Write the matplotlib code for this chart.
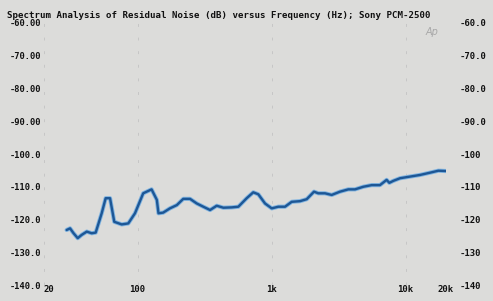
import numpy as np
import matplotlib
matplotlib.use("Agg")
import matplotlib.pyplot as plt
import matplotlib.ticker as ticker

# ---------------------------------------------------------------------------
# DATA
# ---------------------------------------------------------------------------
freq_hz = [29.5, 31.3, 33.1, 35.7, 38.2, 41.7, 45.4, 48.6, 53.9, 57.7,
           62.2, 66.9, 76.0, 85.1, 95.5, 110, 127, 139, 143, 155,
           174, 196, 219, 246, 276, 309, 347, 389, 436, 503,
           564, 651, 729, 795, 892, 1001, 1121, 1258, 1411, 1627,
           1826, 2070, 2228, 2500, 2806, 3236, 3732, 4188, 4832, 5580,
           6428, 7212, 7552, 8090, 9078, 10770, 12790, 15210, 17540, 20000]
noise_db = [-123.2, -122.7, -124.1, -125.7, -124.7, -123.7, -124.2, -124.0, -118.1, -113.5,
            -113.5, -120.7, -121.5, -121.2, -118.1, -112.0, -110.8, -114.0, -118.1, -117.9,
            -116.6, -115.6, -113.7, -113.7, -115.1, -116.1, -117.1, -115.8, -116.4, -116.3,
            -116.1, -113.5, -111.7, -112.3, -115.1, -116.6, -116.1, -116.1, -114.6, -114.4,
            -113.8, -111.5, -112.0, -112.0, -112.5, -111.5, -110.8, -110.8, -110.0, -109.5,
            -109.5, -107.9, -108.8, -108.2, -107.4, -106.9, -106.4, -105.7, -105.1, -105.2]

x_ticks = [20, 100, 1000, 10000, 20000]
x_tick_labels = ["20", "100", "1k", "10k", "20k"]
y_ticks = [-60, -70, -80, -90, -100, -110, -120, -130, -140]
y_left_labels = ["-60.00", "-70.00", "-80.00", "-90.00", "-100.0",
                 "-110.0", "-120.0", "-130.0", "-140.0"]
y_right_labels = ["-60.0", "-70.0", "-80.0", "-90.0", "-100",
                  "-110", "-120", "-130", "-140"]

TITLE = "Spectrum Analysis of Residual Noise (dB) versus Frequency (Hz); Sony PCM-2500"

BG = "#dcdcda"
FONT = "DejaVu Sans Mono"

# ---------------------------------------------------------------------------
# PLOT
# ---------------------------------------------------------------------------
W, H = 493, 301
fig = plt.figure(figsize=(W / 100, H / 100), dpi=100, facecolor=BG)
ax = fig.add_axes([44 / W, (H - 285) / H, 402 / W, 262 / H], facecolor=BG)

ax.set_xscale("log")
ax.set_xlim(20, 20000)
ax.set_ylim(-140, -60)

# faint broken grid remnants of the scan
ax.xaxis.set_minor_locator(ticker.LogLocator(base=10, subs=np.arange(2, 10)))
ax.grid(True, which="both", axis="x", color="#c6c6c6",
        linestyle=(0, (3, 11)), linewidth=0.7)
ax.set_axisbelow(True)

# curve: light halo + dark core
ax.plot(freq_hz, noise_db, color="#7fb3e0", linewidth=3.0,
        solid_capstyle="round", solid_joinstyle="round", zorder=3)
ax.plot(freq_hz, noise_db, color="#1d5796", linewidth=1.7,
        solid_capstyle="round", solid_joinstyle="round", zorder=4)

for s in ax.spines.values():
    s.set_visible(False)

ax.set_xticks(x_ticks)
ax.set_xticklabels(x_tick_labels, fontfamily=FONT, fontweight="bold",
                   fontsize=6.5, color="#111111")
ax.get_xticklabels()[0].set_horizontalalignment("left")
ax.set_xticks([], minor=True)
ax.tick_params(axis="x", which="both", length=0, pad=0)

ax.set_yticks(y_ticks)
ax.set_yticklabels(y_left_labels, fontfamily=FONT, fontweight="bold",
                   fontsize=6.3, color="#111111")
ax.tick_params(axis="y", length=0, pad=2)

ax2 = ax.twinx()
ax2.set_ylim(-140, -60)
ax2.set_yticks(y_ticks)
ax2.set_yticklabels(y_right_labels, fontfamily=FONT, fontweight="bold",
                    fontsize=6.5, color="#111111")
ax2.tick_params(axis="y", length=0, pad=10)
for s in ax2.spines.values():
    s.set_visible(False)

fig.text(7 / W, 1 - 15 / H, TITLE, fontfamily=FONT, fontweight="bold",
         fontsize=6.6, color="#111111", ha="left", va="center")

# handwritten mark near top right
fig.text(432 / W, 1 - 32 / H, "Ap", fontsize=7, color="#a8a8a8",
         style="italic", ha="center", va="center")

fig.savefig("out.png", dpi=100, facecolor=BG)
